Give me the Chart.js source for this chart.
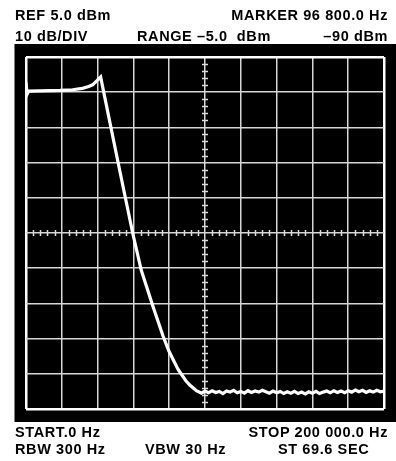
<!DOCTYPE html>
<html>
<head>
<meta charset="utf-8">
<script src="https://cdn.jsdelivr.net/npm/chart.js@4.4.1/dist/chart.umd.min.js"></script>
<style>
  html, body { margin: 0; padding: 0; background: #fff; }
  #wrap { position: relative; width: 396px; height: 461px; overflow: hidden; }
  #chart { position: absolute; left: 0; top: 0; }
  .lbl {
    position: absolute;
    font-family: "Liberation Sans", Arial, sans-serif;
    font-weight: bold;
    font-size: 14.5px;
    line-height: 14px;
    letter-spacing: 0.6px;
    color: #000;
    white-space: pre;
  }
</style>
</head>
<body>
<div id="wrap">
  <canvas id="chart" width="396" height="461"></canvas>
  <div class="lbl" style="left:15px; top:8px;">REF 5.0 dBm</div>
  <div class="lbl" style="right:8px; top:8px;">MARKER 96 800.0 Hz</div>
  <div class="lbl" style="left:15px; top:29px;">10 dB/DIV</div>
  <div class="lbl" style="left:137px; top:29px;">RANGE –5.0  dBm</div>
  <div class="lbl" style="right:8px; top:29px;">–90 dBm</div>
  <div class="lbl" style="left:15px; top:425px;">START.0 Hz</div>
  <div class="lbl" style="right:8px; top:425px;">STOP 200 000.0 Hz</div>
  <div class="lbl" style="left:15px; top:442px;">RBW 300 Hz</div>
  <div class="lbl" style="left:145px; top:442px;">VBW 30 Hz</div>
  <div class="lbl" style="left:278px; top:442px;">ST 69.6 SEC</div>
</div>
<script>
// Analyzer settings (from the screen annotations)
const startHz = 0;
const stopHz = 200000;
const refLevel = 5;      // dBm, top of screen
const dbPerDiv = 10;
const divisions = 10;

// Trace: passband, skirt, then the noise floor
const freqHz = [
  0, 600, 1500, 8000, 19000, 26000, 31600, 35000, 37200, 39500, 41700,
  52300, 59600, 64400, 70900, 76500, 79700, 84800, 89200, 91500, 95200,
  98000, 100000, 102000, 104000, 106000, 108000, 110000, 112000, 114000, 116000,
  118000, 120000, 122000, 124000, 126000, 128000, 130000, 132000, 134000, 136000,
  138000, 140000, 142000, 144000, 146000, 148000, 150000, 152000, 154000, 156000,
  158000, 160000, 162000, 164000, 166000, 168000, 170000, 172000, 174000, 176000,
  178000, 180000, 182000, 184000, 186000, 188000, 190000, 192000, 194000, 196000,
  198000, 200000
];
const levelDbm = [
  -2.2, -5.6, -4.7, -4.6, -4.5, -4.3, -3.9, -3.4, -2.9, -1.8, -0.7,
  -27.1, -45.0, -55.6, -65.8, -74.2, -78.4, -83.6, -86.9, -88.2, -89.8,
  -90.5, -89.9, -90.4, -89.8, -90.3, -90.0, -90.6, -89.9, -90.2, -89.7,
  -90.4, -90.0, -90.5, -89.8, -90.3, -89.9, -90.2, -89.7, -90.1, -90.5,
  -89.9, -90.4, -90.0, -90.6, -90.1, -90.5, -90.0, -90.6, -90.2, -90.7,
  -90.1, -90.5, -90.0, -90.6, -90.2, -89.9, -90.4, -89.8, -90.3, -89.9,
  -90.4, -89.8, -90.2, -89.6, -90.1, -89.7, -90.3, -89.8, -90.2, -89.7,
  -90.1, -89.9
];

const bottomLevel = refLevel - dbPerDiv * divisions;

// Black screen behind the graticule
const screenPlugin = {
  id: 'screen',
  beforeDraw(chart) {
    const ctx = chart.ctx;
    const a = chart.chartArea;
    ctx.save();
    ctx.fillStyle = '#000';
    ctx.fillRect(a.left - 11.5, a.top - 13, chart.width - (a.left - 11.5), (a.bottom + 13) - (a.top - 13));
    ctx.restore();
  }
};

// Small ticks on the centre cross (5 per division)
const centreTicksPlugin = {
  id: 'centreTicks',
  beforeDatasetsDraw(chart) {
    const ctx = chart.ctx;
    const xs = chart.scales.x;
    const ys = chart.scales.y;
    const cx = xs.getPixelForValue((startHz + stopHz) / 2);
    const cy = ys.getPixelForValue((refLevel + bottomLevel) / 2);
    const xStep = (stopHz - startHz) / divisions / 5;
    const yStep = dbPerDiv / 5;
    ctx.save();
    ctx.strokeStyle = '#dcdcdc';
    ctx.lineWidth = 1.5;
    ctx.beginPath();
    for (let i = 1; i < divisions * 5; i++) {
      if (i % 5 === 0) continue;
      const px = Math.round(xs.getPixelForValue(startHz + i * xStep)) + 0.5;
      ctx.moveTo(px, cy - 3);
      ctx.lineTo(px, cy + 3);
      const py = Math.round(ys.getPixelForValue(bottomLevel + i * yStep)) + 0.5;
      ctx.moveTo(cx - 3, py);
      ctx.lineTo(cx + 3, py);
    }
    ctx.stroke();
    ctx.restore();
  }
};

function divTicks(min, step) {
  return function (scale) {
    const t = [];
    for (let i = 0; i <= divisions; i++) t.push({ value: min + i * step });
    scale.ticks = t;
  };
}

new Chart(document.getElementById('chart'), {
  type: 'line',
  data: {
    datasets: [{
      data: freqHz.map((f, i) => ({ x: f, y: levelDbm[i] })),
      borderColor: '#ffffff',
      borderWidth: 3.2,
      pointRadius: 0,
      tension: 0,
      fill: false
    }]
  },
  options: {
    responsive: false,
    animation: false,
    events: [],
    layout: { padding: { left: 26, top: 57, right: 12, bottom: 52 } },
    plugins: { legend: { display: false }, tooltip: { enabled: false } },
    scales: {
      x: {
        type: 'linear',
        min: startHz,
        max: stopHz,
        afterBuildTicks: divTicks(startHz, (stopHz - startHz) / divisions),
        ticks: { display: false },
        grid: {
          color: (c) => (c.index === 0 || c.index === divisions) ? '#ffffff' : '#d6d6d6',
          lineWidth: (c) => (c.index === 0 || c.index === divisions) ? 2.5 : 1.5,
          drawTicks: false
        },
        border: { display: false }
      },
      y: {
        type: 'linear',
        min: bottomLevel,
        max: refLevel,
        afterBuildTicks: divTicks(bottomLevel, dbPerDiv),
        ticks: { display: false },
        grid: {
          color: (c) => (c.index === 0 || c.index === divisions) ? '#ffffff' : '#d6d6d6',
          lineWidth: (c) => (c.index === 0 || c.index === divisions) ? 2.5 : 1.5,
          drawTicks: false
        },
        border: { display: false }
      }
    }
  },
  plugins: [screenPlugin, centreTicksPlugin]
});
</script>
</body>
</html>
